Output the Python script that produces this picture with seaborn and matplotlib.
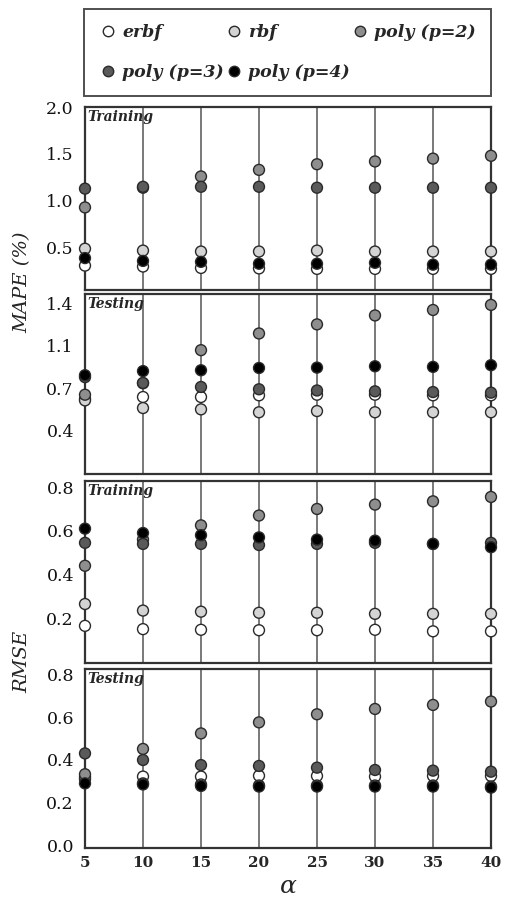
import numpy as np
import pandas as pd
import matplotlib
matplotlib.use("Agg")
import matplotlib.pyplot as plt
import seaborn as sns
from matplotlib.lines import Line2D

sns.set_style("white")
plt.rcParams['font.family'] = ['DejaVu Serif']

alpha = [5, 10, 15, 20, 25, 30, 35, 40]
models = ["erbf", "rbf", "poly (p=2)", "poly (p=3)", "poly (p=4)"]
colors = ["#ffffff", "#d4d4d4", "#8e8e8e", "#5a5a5a", "#000000"]

# MAPE (%) - Training
mape_train_erbf = [0.31, 0.30, 0.285, 0.28, 0.275, 0.275, 0.275, 0.275]
mape_train_rbf = [0.49, 0.47, 0.46, 0.46, 0.47, 0.46, 0.46, 0.46]
mape_train_p2 = [0.93, 1.14, 1.26, 1.33, 1.39, 1.42, 1.45, 1.48]
mape_train_p3 = [1.13, 1.15, 1.15, 1.15, 1.14, 1.14, 1.14, 1.14]
mape_train_p4 = [0.39, 0.36, 0.35, 0.33, 0.33, 0.34, 0.32, 0.32]

# MAPE (%) - Testing
mape_test_erbf = [0.61, 0.626, 0.626, 0.64, 0.645, 0.645, 0.64, 0.64]
mape_test_rbf = [0.598, 0.535, 0.524, 0.50, 0.51, 0.50, 0.50, 0.50]
mape_test_p2 = [0.645, 0.74, 1.013, 1.151, 1.226, 1.30, 1.345, 1.387]
mape_test_p3 = [0.79, 0.742, 0.709, 0.69, 0.68, 0.673, 0.667, 0.662]
mape_test_p4 = [0.806, 0.84, 0.847, 0.866, 0.869, 0.88, 0.875, 0.889]

# RMSE - Training
rmse_train_erbf = [0.165, 0.15, 0.147, 0.145, 0.145, 0.147, 0.14, 0.14]
rmse_train_rbf = [0.265, 0.235, 0.23, 0.225, 0.225, 0.22, 0.22, 0.22]
rmse_train_p2 = [0.44, 0.56, 0.625, 0.67, 0.70, 0.72, 0.735, 0.755]
rmse_train_p3 = [0.545, 0.54, 0.54, 0.535, 0.54, 0.545, 0.54, 0.545]
rmse_train_p4 = [0.61, 0.59, 0.58, 0.57, 0.56, 0.555, 0.54, 0.525]

# RMSE - Testing
rmse_test_erbf = [0.31, 0.322, 0.322, 0.326, 0.325, 0.322, 0.325, 0.325]
rmse_test_rbf = [0.32, 0.29, 0.285, 0.28, 0.28, 0.28, 0.28, 0.275]
rmse_test_p2 = [0.333, 0.452, 0.525, 0.577, 0.615, 0.64, 0.659, 0.675]
rmse_test_p3 = [0.431, 0.40, 0.376, 0.372, 0.364, 0.353, 0.35, 0.345]
rmse_test_p4 = [0.29, 0.285, 0.278, 0.275, 0.275, 0.275, 0.275, 0.27]

mape_ticks_train = [0.5, 1.0, 1.5, 2.0]
mape_ticklabels_train = ["0.5", "1.0", "1.5", "2.0"]
mape_ticks_test = [0.35, 0.70, 1.05, 1.40]
mape_ticklabels_test = ["0.4", "0.7", "1.1", "1.4"]
rmse_ticks_train = [0.2, 0.4, 0.6, 0.8]
rmse_ticklabels_train = ["0.2", "0.4", "0.6", "0.8"]
rmse_ticks_test = [0.0, 0.2, 0.4, 0.6, 0.8]
rmse_ticklabels_test = ["0.0", "0.2", "0.4", "0.6", "0.8"]


def make_df(series):
    rows = []
    for m, vals in zip(models, series):
        for a, v in zip(alpha, vals):
            rows.append({"alpha": a, "value": v, "model": m})
    return pd.DataFrame(rows)


panels = [
    (make_df([mape_train_erbf, mape_train_rbf, mape_train_p2, mape_train_p3, mape_train_p4]),
     "Training", (0.05, 2.0), mape_ticks_train, mape_ticklabels_train, (107, 290)),
    (make_df([mape_test_erbf, mape_test_rbf, mape_test_p2, mape_test_p3, mape_test_p4]),
     "Testing", (-0.01, 1.477), mape_ticks_test, mape_ticklabels_test, (294, 474)),
    (make_df([rmse_train_erbf, rmse_train_rbf, rmse_train_p2, rmse_train_p3, rmse_train_p4]),
     "Training", (-0.005, 0.828), rmse_ticks_train, rmse_ticklabels_train, (481, 663)),
    (make_df([rmse_test_erbf, rmse_test_rbf, rmse_test_p2, rmse_test_p3, rmse_test_p4]),
     "Testing", (-0.014, 0.828), rmse_ticks_test, rmse_ticklabels_test, (669, 848)),
]

W, H = 509, 897
fig = plt.figure(figsize=(W / 100, H / 100), dpi=100)
palette = dict(zip(models, colors))
left_px, right_px = 85, 491

for i, (df, tag, ylim, yt, ytl, (top, bot)) in enumerate(panels):
    ax = fig.add_axes([left_px / W, 1 - bot / H, (right_px - left_px) / W, (bot - top) / H])
    sns.scatterplot(data=df, x="alpha", y="value", hue="model", hue_order=models,
                    palette=palette, s=62, edgecolor="#2a2a2a", linewidth=1.0,
                    legend=False, ax=ax, zorder=3, clip_on=False)
    ax.set_xlim(5, 40)
    ax.set_ylim(*ylim)
    ax.set_xticks(alpha)
    ax.set_yticks(yt)
    ax.set_yticklabels(ytl)
    ax.set_xlabel("")
    ax.set_ylabel("")
    ax.grid(False)
    for a in alpha:
        ax.axvline(a, color="#555555", lw=1.1, zorder=1)
    for sp in ax.spines.values():
        sp.set_color("#333333")
        sp.set_linewidth(1.6)
        sp.set_zorder(2)
    ax.tick_params(axis="both", length=0)
    ax.tick_params(axis="y", pad=8, labelsize=12.5, labelcolor="#111111")
    if i < 3:
        ax.tick_params(axis="x", labelbottom=False)
    else:
        ax.tick_params(axis="x", pad=6, labelsize=11)
        for lab in ax.get_xticklabels():
            lab.set_fontweight("bold")
    ax.text(0.005, 0.985, tag, transform=ax.transAxes, ha="left", va="top",
            fontsize=10, fontweight="bold", fontstyle="italic", zorder=5)

fig.text(22 / W, 1 - 282 / H, "MAPE (%)", rotation=90, ha="center", va="center",
         fontsize=14, fontstyle="italic")
fig.text(22 / W, 1 - 662 / H, "RMSE", rotation=90, ha="center", va="center",
         fontsize=14, fontstyle="italic")
fig.text(288 / W, 1 - 886 / H, "α", ha="center", va="center",
         fontsize=18, fontstyle="italic")

# legend filled column-wise -> reorder so rows read erbf, rbf, poly2 / poly3, poly4
order = [0, 3, 1, 4, 2]
handles = [Line2D([0], [0], marker="o", linestyle="", markersize=7.5,
                  markerfacecolor=colors[k], markeredgecolor="#2a2a2a", markeredgewidth=1.0)
           for k in order]
labels = [models[k] for k in order]
leg = fig.legend(handles, labels, loc="center", ncol=3, mode="expand",
                 bbox_to_anchor=(84 / W, 1 - 97 / H, 407 / W, 89 / H),
                 prop={"size": 12.5, "weight": "bold", "style": "italic"},
                 frameon=True, fancybox=False, edgecolor="#222222",
                 borderpad=0.9, labelspacing=1.3, columnspacing=1.0,
                 handletextpad=0.3, handlelength=1.0, borderaxespad=0)
leg.get_frame().set_linewidth(1.4)

fig.savefig("out.png", dpi=100)
